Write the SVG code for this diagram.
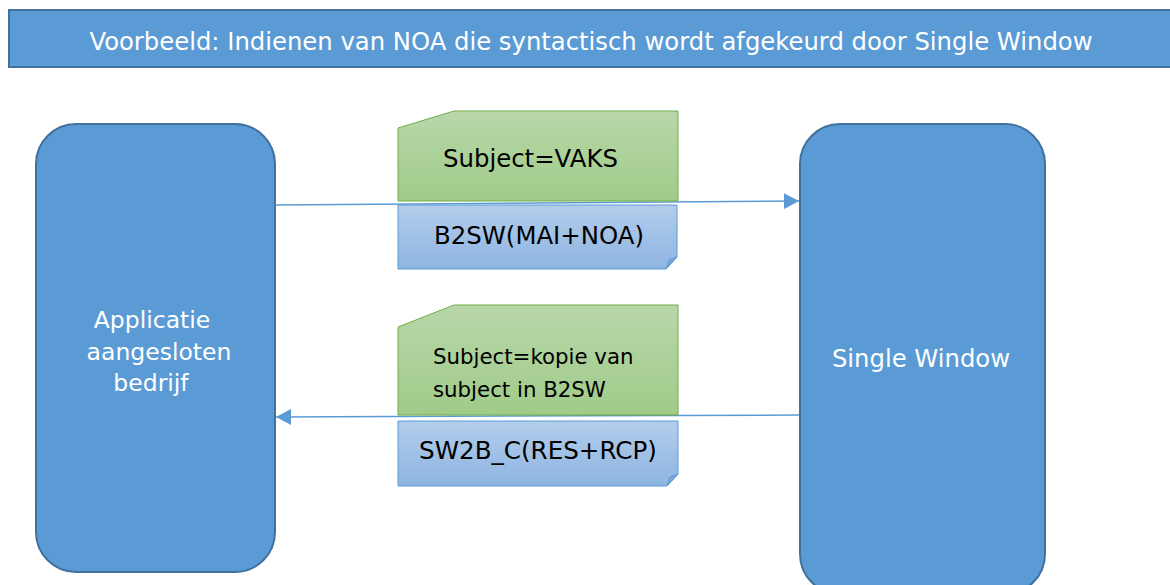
<svg xmlns="http://www.w3.org/2000/svg" width="1170" height="585" viewBox="0 0 1170 585">
<defs>
<linearGradient id="gGreen" x1="0" y1="0" x2="0" y2="1">
<stop offset="0" stop-color="#B8D7AA"/>
<stop offset="1" stop-color="#A0CB88"/>
</linearGradient>
<linearGradient id="gBlue" x1="0" y1="0" x2="0" y2="1">
<stop offset="0" stop-color="#B3CDEB"/>
<stop offset="1" stop-color="#8EB5E2"/>
</linearGradient>
<marker id="arr" viewBox="0 0 10 10" refX="10" refY="5" markerWidth="15" markerHeight="16" markerUnits="userSpaceOnUse" orient="auto" preserveAspectRatio="none">
<path d="M0,0 L10,5 L0,10 Z" fill="#5B9BD5"/>
</marker>
</defs>
<style>
.node{fill:#5B9BD5;stroke:#41719C;stroke-width:2}
.lbl{font-family:"DejaVu Sans","Verdana",sans-serif;fill:#FFFFFF;font-size:23.5px}
.txt{font-family:"DejaVu Sans","Verdana",sans-serif;fill:#000000}
.green{fill:url(#gGreen);stroke:#70AD47;stroke-width:1}
.note{fill:url(#gBlue);stroke:#5B9BD5;stroke-width:1}
.fold{fill:#7FA8D8;stroke:#5B9BD5;stroke-width:1}
.conn{stroke:#5B9BD5;stroke-width:1.5;fill:none}
</style>
<g id="title">
<rect x="9" y="10" width="1170" height="57" class="node"/>
<text x="591" y="50" text-anchor="middle" class="lbl" style="font-size:24.3px">Voorbeeld: Indienen van NOA die syntactisch wordt afgekeurd door Single Window</text>
</g>
<g id="node-app">
<rect x="36" y="124" width="239" height="448" rx="40" ry="40" class="node"/>
<text x="152" y="328" text-anchor="middle" class="lbl">Applicatie</text>
<text x="159" y="360" text-anchor="middle" class="lbl">aangesloten</text>
<text x="151" y="391" text-anchor="middle" class="lbl">bedrijf</text>
</g>
<g id="node-sw">
<rect x="800" y="124" width="245" height="470" rx="40" ry="40" class="node"/>
<text x="921" y="367" text-anchor="middle" class="lbl" style="font-size:24.3px">Single Window</text>
</g>
<g id="connectors">
<line x1="275" y1="205" x2="799" y2="201" class="conn" marker-end="url(#arr)"/>
<line x1="799" y1="415" x2="276" y2="417" class="conn" marker-end="url(#arr)"/>
</g>
<g id="subject-1">
<path d="M398,128 L454,111 L678,111 L678,201 L398,201 Z" class="green"/>
<text x="443" y="167" class="txt" font-size="24.4">Subject=VAKS</text>
</g>
<g id="msg-1">
<path d="M398,205 L677,205 L677,257 L666,269 L398,269 Z" class="note"/>
<path d="M677,257 L666,269 L669,260 Z" class="fold"/>
<text x="539" y="244" text-anchor="middle" class="txt" font-size="24.4">B2SW(MAI+NOA)</text>
</g>
<g id="subject-2">
<path d="M398,327 L454,305 L678,305 L678,415 L398,415 Z" class="green"/>
<text x="433" y="364" class="txt" font-size="21.3">Subject=kopie van</text>
<text x="433" y="397" class="txt" font-size="21.3">subject in B2SW</text>
</g>
<g id="msg-2">
<path d="M398,421 L678,421 L678,474 L667,486 L398,486 Z" class="note"/>
<path d="M678,474 L667,486 L670,477 Z" class="fold"/>
<text x="538" y="459" text-anchor="middle" class="txt" font-size="24.6">SW2B_C(RES+RCP)</text>
</g>
</svg>
